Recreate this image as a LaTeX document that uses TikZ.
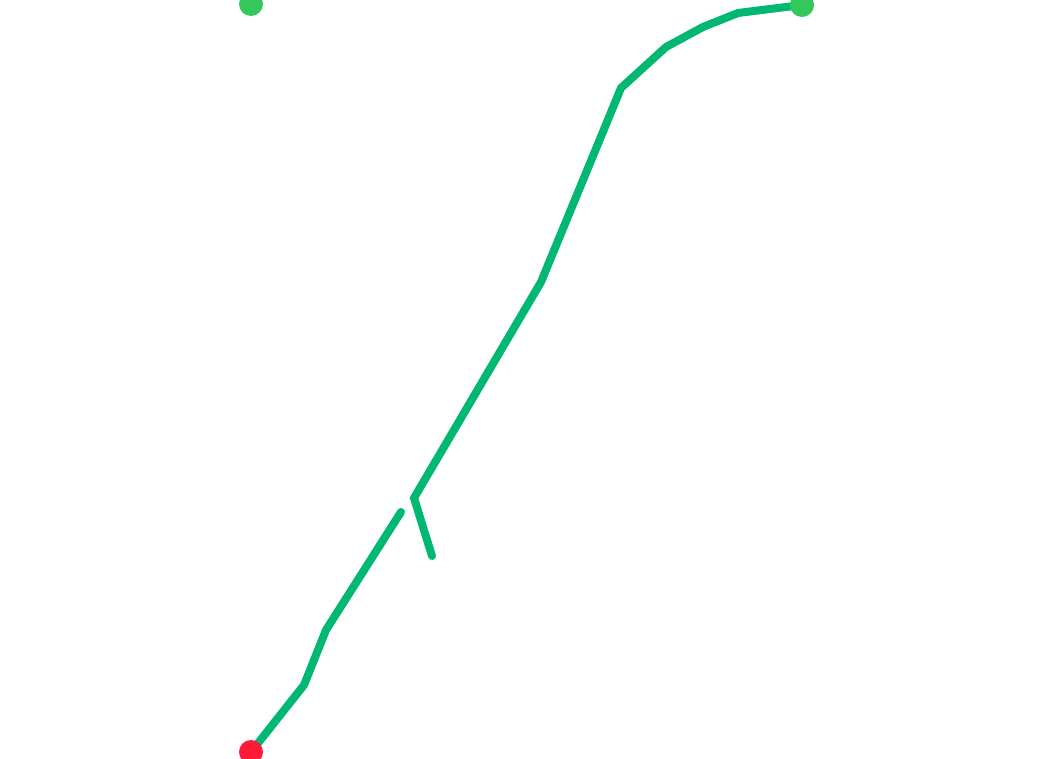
\documentclass[tikz,border=0pt]{standalone}
\usetikzlibrary{calc,positioning}

\definecolor{routegreen}{RGB}{0,184,114}
\definecolor{dotgreen}{RGB}{52,199,89}
\definecolor{dotred}{RGB}{255,26,58}

\tikzset{
  route/.style={draw=routegreen, line width=0.16cm, line cap=round},
  pin/.style={circle, inner sep=0pt, minimum size=0.48cm},
}

\begin{document}
\begin{tikzpicture}[x=0.02cm, y=-0.02cm]
\useasboundingbox (0,0) rectangle (1053,759);

% points of the track
\coordinate (a1) at (304,685);
\coordinate (a2) at (326,630);
\coordinate (a3) at (401,512);
\coordinate (b0) at (432,556);
\coordinate (b1) at (414,498);
\coordinate (b2) at (541,282);
\coordinate (b3) at (621,88);
\coordinate (b4) at (666,47);
\coordinate (b5) at (703,27);
\coordinate (b6) at (738,13);

\coordinate (startpt) at (251,752);
\coordinate (endpt)   at (802,5);

\draw[route] (startpt) -- (a1) -- (a2) -- (a3);
\draw[route] (b0) -- (b1) -- (b2) -- (b3) -- (b4) -- (b5) -- (b6) -- (endpt);

\node[pin, fill=dotgreen] (home)  at (251,4)  {};
\node[pin, fill=dotgreen] (goal)  at (endpt)  {};
\node[pin, fill=dotred]   (start) at (startpt) {};
\end{tikzpicture}
\end{document}
